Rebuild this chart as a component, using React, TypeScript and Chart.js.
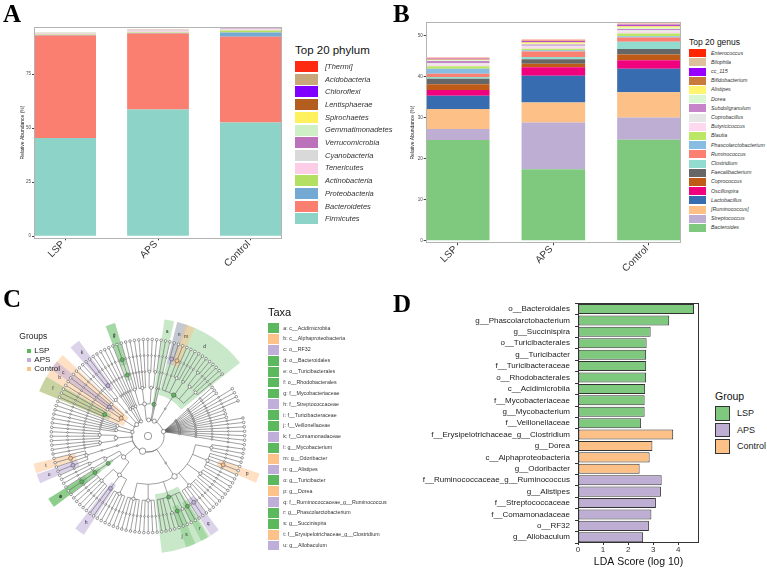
import React, { useEffect, useRef } from 'react';
import Chart from 'chart.js/auto';

const FONT = 'Liberation Sans, Arial, Helvetica, sans-serif';
const SERIF = 'Liberation Serif, Times New Roman, serif';

// ================= Panel A : phylum =================
const groupLabels = ['LSP', 'APS', 'Control'];
const phylumNames = ['Firmicutes', 'Bacteroidetes', 'Proteobacteria', 'Actinobacteria', 'Tenericutes', 'Cyanobacteria', 'Verrucomicrobia', 'Gemmatimonadetes', 'Spirochaetes', 'Lentisphaerae', 'Chloroflexi', 'Acidobacteria', '[Thermi]'];
const phylumColors = ['#8dd3c7', '#fb7f70', '#74a9d4', '#b3df62', '#fccde6', '#d9d9d9', '#bb72bb', '#cfefc6', '#fff15e', '#b35e1e', '#8000ff', '#c8a87a', '#ff2a12'];
const phylumLSP = [45.4, 47.5, 0.2, 0.3, 0.3, 0.3, 0.1, 0.05, 0.05, 0.03, 0.02, 0.02, 0.02];
const phylumAPS = [58.6, 35.2, 0.3, 0.2, 0.6, 0.3, 0.2, 0.05, 0.05, 0.03, 0.02, 0.02, 0.02];
const phylumControl = [52.6, 39.7, 2.0, 0.9, 0.5, 0.4, 0.2, 0.1, 0.1, 0.03, 0.02, 0.02, 0.02];
const ticksA = [0, 25, 50, 75];

// ================= Panel B : genus =================
const genusNames = ['Bacteroides', 'Streptococcus', '[Ruminococcus]', 'Lactobacillus', 'Oscillospira', 'Coprococcus', 'Faecalibacterium', 'Clostridium', 'Ruminococcus', 'Phascolarctobacterium', 'Blautia', 'Butyricicoccus', 'Coprobacillus', 'Subdoligranulum', 'Dorea', 'Alistipes', 'Bifidobacterium', 'cc_115', 'Bilophila', 'Enterococcus'];
const genusColors = ['#7fc97f', '#beaed4', '#fdc086', '#386cb0', '#f0027f', '#bf5b17', '#666666', '#92dccf', '#fb8072', '#88bce2', '#bce766', '#fdd9ef', '#e6e6e6', '#c585c8', '#d8f7d0', '#fff56f', '#c87b3a', '#9900ff', '#dcc19c', '#ff2600'];
const genusLSP = [24.55, 2.65, 4.9, 3.2, 1.4, 1.4, 1.4, 0.4, 0.8, 1.2, 0.6, 0.4, 0.4, 0.5, 0.2, 0.1, 0.15, 0.1, 0.1, 0.15];
const genusAPS = [17.4, 11.4, 4.9, 6.5, 2.1, 0.8, 1.1, 0.6, 1.3, 0.3, 0.4, 0.4, 0.3, 0.3, 0.2, 0.3, 0.2, 0.2, 0.1, 0.2];
const genusControl = [24.6, 5.4, 6.2, 5.7, 2.1, 1.4, 1.3, 1.8, 1.0, 0.3, 0.7, 0.4, 0.4, 0.3, 0.3, 0.3, 0.2, 0.2, 0.2, 0.1];
const ticksB = [0, 10, 20, 30, 40, 50];

// ================= Panel C : cladogram =================
const groupNames = ['LSP', 'APS', 'Control'];
const cladeColors: Record<string, string> = { LSP: '#5cb85c', APS: '#bfaed8', Control: '#fdc28a' };
const cladeShade: Record<string, string> = { LSP: 'rgba(92,184,92,0.33)', APS: 'rgba(191,174,216,0.55)', Control: 'rgba(253,194,138,0.5)' };
const taxaKeys = ['a', 'b', 'c', 'd', 'e', 'f', 'g', 'h', 'i', 'j', 'k', 'l', 'm', 'n', 'o', 'p', 'q', 'r', 's', 't', 'u'];
const taxaNames = ['c__Acidimicrobiia', 'c__Alphaproteobacteria', 'o__RF32', 'o__Bacteroidales', 'o__Turicibacterales', 'o__Rhodobacterales', 'f__Mycobacteriaceae', 'f__Streptococcaceae', 'f__Turicibacteraceae', 'f__Veillonellaceae', 'f__Comamonadaceae', 'g__Mycobacterium', 'g__Odoribacter', 'g__Alistipes', 'g__Turicibacter', 'g__Dorea', 'f__Ruminococcaceae_g__Ruminococcus', 'g__Phascolarctobacterium', 'g__Succinispira', 'f__Erysipelotrichaceae_g__Clostridium', 'g__Allobaculum'];
const taxaGroups = ['LSP', 'Control', 'APS', 'LSP', 'LSP', 'LSP', 'LSP', 'APS', 'LSP', 'LSP', 'APS', 'LSP', 'Control', 'APS', 'LSP', 'Control', 'APS', 'LSP', 'LSP', 'Control', 'APS'];

interface TNode { m: string; c: TNode[]; s: boolean; depth: number; ang: number; a0: number; a1: number; n: number; x: number; y: number; }
function nd(m: string, ...c: TNode[]): TNode { return { m, c, s: false, depth: 0, ang: 0, a0: 0, a1: 0, n: 0, x: 0, y: 0 }; }
function lf(m = ''): TNode { return nd(m); }
function chain(d: number): TNode { return d <= 1 ? lf() : nd('', chain(d - 1)); }
function fan(k: number, d: number): TNode[] { const out: TNode[] = []; for (let i = 0; i < k; i++) out.push(chain(d)); return out; }
function straight(t: TNode): TNode { t.s = true; return t; }

// tree topology (clockwise from the top)
const cladeActinobacteria = nd('',
  nd('', nd('', nd('g', nd('l', lf())), ...fan(2, 3)), nd('', ...fan(4, 3)), nd('', nd('', ...fan(2, 2)), nd('', ...fan(2, 2)))),
  nd('a', ...fan(1, 4)));
const cladeBacteroidetes = nd('',
  nd('', ...fan(1, 4)),
  nd('', nd('d',
    nd('', nd('n', ...fan(2, 1))),
    nd('', nd('m', lf())),
    nd('', ...fan(3, 2)),
    nd('', ...fan(2, 2)),
    nd('', nd('', ...fan(2, 1)), nd('', lf())),
    nd('', ...fan(3, 2)))));
const cladeFan = straight(nd('', ...fan(3, 4), ...fan(4, 5), ...fan(3, 4), ...fan(4, 5), ...fan(3, 5)));
const cladeFirmicutes = nd('',
  nd('', nd('',
    nd('', ...fan(3, 2)),
    nd('', ...fan(2, 2), nd('p', lf()), ...fan(3, 2)),
    nd('', ...fan(4, 2)),
    nd('', ...fan(5, 2), nd('q', lf()), ...fan(1, 2)),
    nd('j', nd('r', lf()), nd('', ...fan(2, 1)), nd('s', lf()), nd('', ...fan(2, 1)), ...fan(3, 2)),
    nd('', ...fan(5, 2)),
    nd('', ...fan(5, 2)))),
  nd('',
    nd('', nd('', ...fan(5, 2)), nd('h', ...fan(2, 2)), nd('', ...fan(6, 2))),
    nd('e', nd('i', nd('o', lf()))),
    nd('', nd('', ...fan(2, 2)), nd('', ...fan(2, 2)))),
  nd('', nd('', nd('', nd('u', lf()), nd('', lf()), nd('t', lf()), nd('', lf())))));
const cladeTenericutes = nd('', nd('', nd('', ...fan(3, 3)), nd('', ...fan(4, 3))));
const cladeCyanobacteria = nd('', nd('', ...fan(3, 4)), nd('', ...fan(3, 4)));
const cladeProteobacteria = nd('',
  nd('b', nd('f', ...fan(3, 3)), nd('', ...fan(2, 3)), nd('c', ...fan(1, 3)), nd('', ...fan(2, 3))),
  nd('', nd('', ...fan(2, 3), nd('k', ...fan(2, 2)))),
  nd('', ...fan(2, 4)));
const cladeVerrucomicrobia = nd('', nd('', ...fan(2, 4)), nd('', ...fan(2, 4)));
const treeRoot = nd('', cladeActinobacteria, cladeBacteroidetes, cladeFan, cladeFirmicutes, cladeTenericutes, cladeCyanobacteria, cladeProteobacteria, cladeVerrucomicrobia);
const treeStartAngle = -20;

// ================= Panel D : LDA =================
const ldaTaxa = ['o__Bacteroidales', 'g__Phascolarctobacterium', 'g__Succinispira', 'o__Turicibacterales', 'g__Turicibacter', 'f__Turicibacteraceae', 'o__Rhodobacterales', 'c__Acidimicrobiia', 'f__Mycobacteriaceae', 'g__Mycobacterium', 'f__Veillonellaceae', 'f__Erysipelotrichaceae_g__Clostridium', 'g__Dorea', 'c__Alphaproteobacteria', 'g__Odoribacter', 'f__Ruminococcaceae_g__Ruminococcus', 'g__Alistipes', 'f__Streptococcaceae', 'f__Comamonadaceae', 'o__RF32', 'g__Allobaculum'];
const ldaScores = [4.63, 3.64, 2.90, 2.74, 2.72, 2.72, 2.72, 2.68, 2.66, 2.66, 2.52, 3.80, 2.97, 2.86, 2.46, 3.34, 3.31, 3.11, 2.93, 2.83, 2.60];
const ldaGroups = ['LSP', 'LSP', 'LSP', 'LSP', 'LSP', 'LSP', 'LSP', 'LSP', 'LSP', 'LSP', 'LSP', 'Control', 'Control', 'Control', 'Control', 'APS', 'APS', 'APS', 'APS', 'APS', 'APS'];
const ldaColors: Record<string, string> = { LSP: '#7fc97f', APS: '#beaed4', Control: '#fdc086' };
const ldaTicks = [0, 1, 2, 3, 4];

// ---------- tree layout ----------
const LEVEL = 16.7;
const rad = (d: number) => d * LEVEL;
const polar = (r: number, deg: number) => ({ x: r * Math.sin((deg * Math.PI) / 180), y: r * Math.cos((deg * Math.PI) / 180) });
function layoutTree(root: TNode, start: number) {
  const count = (t: TNode): number => (t.c.length ? t.c.reduce((s, c) => s + count(c), 0) : 1);
  const total = count(root);
  const step = 360 / total;
  let k = 0;
  const all: TNode[] = [];
  const walk = (t: TNode, depth: number) => {
    t.depth = depth; all.push(t);
    if (!t.c.length) { t.ang = start + (k + 0.5) * step; t.a0 = t.a1 = t.ang; t.n = 1; k++; return; }
    t.c.forEach((c) => walk(c, depth + 1));
    const f = t.c[0], l = t.c[t.c.length - 1];
    t.ang = (f.ang + l.ang) / 2; t.a0 = f.a0; t.a1 = l.a1; t.n = t.c.reduce((s, c) => s + c.n, 0);
  };
  walk(root, 0);
  const place = (t: TNode, anchor: TNode | null) => {
    if (anchor) {
      let leaf = t; while (leaf.c.length) leaf = leaf.c[0];
      const L = polar(rad(leaf.depth), leaf.ang);
      const f = (t.depth - anchor.depth) / (leaf.depth - anchor.depth);
      t.x = anchor.x + (L.x - anchor.x) * f; t.y = anchor.y + (L.y - anchor.y) * f;
    } else {
      const p = polar(rad(t.depth), t.ang); t.x = p.x; t.y = p.y;
    }
    const a = anchor || (t.s ? t : null);
    t.c.forEach((c) => place(c, a));
  };
  place(root, null);
  return { all, step };
}
const { all: treeNodes, step: leafStep } = layoutTree(treeRoot, treeStartAngle);
const groupOf = (m: string) => taxaGroups[taxaKeys.indexOf(m)];

const framePlugin = (color: string) => ({
  id: 'frame',
  afterDatasetsDraw(chart: any) {
    const { ctx, chartArea: a } = chart;
    ctx.save(); ctx.strokeStyle = color; ctx.lineWidth = 1;
    ctx.strokeRect(Math.round(a.left) + 0.5, Math.round(a.top) + 0.5, Math.round(a.width) - 1, Math.round(a.height) - 1);
    ctx.restore();
  },
});

function makeStacked(canvas: HTMLCanvasElement, names: string[], colors: string[], series: number[][], o: any) {
  return new Chart(canvas, {
    type: 'bar',
    data: {
      datasets: names.map((name, i) => ({
        label: name,
        data: series.map((s, j) => ({ x: j + 1, y: s[i] })),
        backgroundColor: colors[i],
        borderWidth: 0,
        barPercentage: 0.665,
        categoryPercentage: 1,
      })),
    },
    options: {
      animation: false, responsive: true, maintainAspectRatio: false, events: [],
      layout: { padding: o.padding },
      plugins: { legend: { display: false }, tooltip: { enabled: false } },
      scales: {
        x: {
          type: 'linear', stacked: true, min: 0.665, max: 3.335, offset: false,
          afterBuildTicks: (s: any) => { s.ticks = groupLabels.map((_, i) => ({ value: i + 1 })); },
          afterFit: (s: any) => { s.height = o.xHeight; },
          ticks: { autoSkip: false, callback: (v: any) => groupLabels[Number(v) - 1] ?? '', minRotation: 45, maxRotation: 45, padding: -2, labelOffset: -2, color: '#333', font: { family: FONT, size: 10 } },
          grid: { offset: false, drawOnChartArea: false, tickLength: 2, tickColor: '#444' },
          border: { display: false },
        },
        y: {
          type: 'linear', stacked: true, min: o.yMin, max: o.yMax,
          afterBuildTicks: (s: any) => { s.ticks = o.yTicks.map((v: number) => ({ value: v })); },
          afterFit: (s: any) => { s.width = o.yWidth; },
          ticks: { padding: 1, color: '#4d4d4d', font: { family: FONT, size: 4.5 } },
          grid: { drawOnChartArea: false, tickLength: 2, tickColor: '#444' },
          border: { display: false },
          title: { display: true, text: 'Relative Abundance (%)', padding: 0, color: '#222', font: { family: FONT, size: 5 } },
        },
      },
    } as any,
    plugins: [framePlugin('#b3b3b3')],
  });
}

function makeA(c: HTMLCanvasElement) {
  return makeStacked(c, phylumNames, phylumColors, [phylumLSP, phylumAPS, phylumControl], {
    padding: { left: 20, right: 8, top: 26.7, bottom: 0 }, xHeight: 46.7, yWidth: 14, yMin: -1, yMax: 97, yTicks: ticksA,
  });
}
function makeB(c: HTMLCanvasElement) {
  return makeStacked(c, genusNames, genusColors, [genusLSP, genusAPS, genusControl], {
    padding: { left: 30, right: 4, top: 22, bottom: 0 }, xHeight: 41.7, yWidth: 15.7, yMin: -0.63, yMax: 53.3, yTicks: ticksB,
  });
}

const cladePlugin = {
  id: 'clade',
  beforeDatasetsDraw(chart: any) {
    const { ctx } = chart;
    const xs = chart.scales.x, ys = chart.scales.y;
    const cx = xs.getPixelForValue(0), cy = ys.getPixelForValue(0);
    const k = xs.getPixelForValue(1) - cx;
    const ca = (deg: number) => ((deg - 90) * Math.PI) / 180;
    const P = (t: TNode) => [xs.getPixelForValue(t.x), ys.getPixelForValue(t.y)];
    ctx.save();
    treeNodes.filter((t) => t.m).sort((a, b) => a.depth - b.depth).forEach((t) => {
      let a0 = t.a0 - leafStep / 2, a1 = t.a1 + leafStep / 2;
      if (a1 - a0 < 4.8) { const mid = (a0 + a1) / 2; a0 = mid - 2.4; a1 = mid + 2.4; }
      const rin = Math.max(rad(t.depth) - 6, 4), rout = 122;
      ctx.beginPath();
      ctx.arc(cx, cy, rout * k, ca(a0), ca(a1));
      ctx.arc(cx, cy, rin * k, ca(a1), ca(a0), true);
      ctx.closePath();
      ctx.fillStyle = cladeShade[groupOf(t.m)];
      ctx.fill();
    });
    ctx.strokeStyle = '#606060'; ctx.lineWidth = 0.6;
    const drawNode = (t: TNode) => {
      if (!t.c.length) return;
      if (t.s) {
        const [ax, ay] = P(t);
        const leaves: TNode[] = [];
        const collect = (u: TNode) => { if (!u.c.length) leaves.push(u); else u.c.forEach(collect); };
        collect(t);
        leaves.forEach((l) => { const [lx, ly] = P(l); ctx.beginPath(); ctx.moveTo(ax, ay); ctx.lineTo(lx, ly); ctx.stroke(); });
        return;
      }
      const rp = t.depth === 0 ? rad(1) : rad(t.depth);
      const f = t.c[0], l = t.c[t.c.length - 1];
      if (t.c.length > 1) { ctx.beginPath(); ctx.arc(cx, cy, rp * k, ca(f.ang), ca(l.ang)); ctx.stroke(); }
      t.c.forEach((ch) => {
        const r2 = rad(ch.depth);
        if (r2 > rp) {
          const a = (ch.ang * Math.PI) / 180;
          ctx.beginPath();
          ctx.moveTo(cx + rp * k * Math.sin(a), cy - rp * k * Math.cos(a));
          ctx.lineTo(cx + r2 * k * Math.sin(a), cy - r2 * k * Math.cos(a));
          ctx.stroke();
        }
        drawNode(ch);
      });
    };
    drawNode(treeRoot);
    ctx.restore();
  },
  afterDatasetsDraw(chart: any) {
    const { ctx } = chart;
    const xs = chart.scales.x, ys = chart.scales.y;
    ctx.save();
    ctx.font = `5px ${FONT}`; ctx.fillStyle = '#333'; ctx.textAlign = 'center'; ctx.textBaseline = 'middle';
    treeNodes.filter((t) => t.m).forEach((t) => {
      const p = polar(110, t.ang);
      ctx.fillText(t.m, xs.getPixelForValue(p.x), ys.getPixelForValue(p.y));
    });
    ctx.restore();
  },
};

function makeC(c: HTMLCanvasElement) {
  const pts = treeNodes.map((t) => ({ x: t.x, y: t.y }));
  const radii = treeNodes.map((t) => {
    if (t.depth === 0) return 3.7;
    if (t.m) return Math.max(2, 1.1 + 0.3 * Math.sqrt(t.n));
    if (!t.c.length) return 1.3;
    if (t.c.length === 1) return 0.85;
    return 1 + 0.28 * Math.sqrt(t.n);
  });
  const fills = treeNodes.map((t) => (t.m ? cladeColors[groupOf(t.m)] : '#ffffff'));
  return new Chart(c, {
    type: 'scatter',
    data: { datasets: [{ data: pts, pointRadius: radii, pointBackgroundColor: fills, pointBorderColor: '#555', pointBorderWidth: 0.6 }] },
    options: {
      animation: false, responsive: true, maintainAspectRatio: false, events: [],
      layout: { padding: 0 },
      plugins: { legend: { display: false }, tooltip: { enabled: false } },
      scales: {
        x: { type: 'linear', min: -130, max: 130, display: false },
        y: { type: 'linear', min: -130, max: 130, display: false },
      },
    } as any,
    plugins: [cladePlugin],
  });
}

function makeD(c: HTMLCanvasElement) {
  return new Chart(c, {
    type: 'bar',
    data: {
      labels: ldaTaxa,
      datasets: [{
        data: ldaScores,
        backgroundColor: ldaGroups.map((g) => ldaColors[g]),
        borderColor: '#333', borderWidth: 1, borderSkipped: false,
        barPercentage: 0.88, categoryPercentage: 1,
      }],
    },
    options: {
      indexAxis: 'y',
      animation: false, responsive: true, maintainAspectRatio: false, events: [],
      layout: { padding: { left: 0, right: 4, top: 18.3, bottom: 0 } },
      plugins: { legend: { display: false }, tooltip: { enabled: false } },
      scales: {
        x: {
          type: 'linear', min: 0, max: 4.83,
          afterBuildTicks: (s: any) => { s.ticks = ldaTicks.map((v) => ({ value: v })); },
          afterFit: (s: any) => { s.height = 26; },
          ticks: { padding: 0, color: '#333', font: { family: FONT, size: 8 } },
          grid: { drawOnChartArea: false, tickLength: 2, tickColor: '#333' },
          border: { display: false },
          title: { display: true, text: 'LDA Score (log 10)', color: '#111', padding: { top: 0, bottom: 1 }, font: { family: FONT, size: 10.5 } },
        },
        y: {
          afterFit: (s: any) => { s.width = 193; },
          ticks: { autoSkip: false, padding: 5, color: '#222', font: { family: FONT, size: 8 } },
          grid: { drawOnChartArea: false, tickLength: 3, tickColor: '#333' },
          border: { display: false },
        },
      },
    } as any,
    plugins: [framePlugin('#333')],
  });
}

function ChartBox({ left, top, width, height, make }: { left: number; top: number; width: number; height: number; make: (c: HTMLCanvasElement) => Chart }) {
  const ref = useRef<HTMLCanvasElement>(null);
  useEffect(() => {
    const ch = make(ref.current as HTMLCanvasElement);
    return () => ch.destroy();
  }, []);
  return (
    <div style={{ position: 'absolute', left, top, width, height }}>
      <canvas ref={ref} />
    </div>
  );
}

function Txt({ x, base, size, text, italic, color = '#000', family = FONT, weight = 'normal' }: any) {
  const asc = family === SERIF ? 0.8375 : 0.8465;
  return (
    <div style={{ position: 'absolute', left: x, top: base - asc * size, fontSize: size, lineHeight: `${size}px`, fontFamily: family, fontStyle: italic ? 'italic' : 'normal', fontWeight: weight, color, whiteSpace: 'nowrap' }}>
      {text}
    </div>
  );
}

function Box({ x, y, w, h, color, border }: any) {
  return <div style={{ position: 'absolute', left: x, top: y, width: w, height: h, background: color, boxSizing: 'border-box', border: border ? `1px solid ${border}` : 'none' }} />;
}

function Letter({ x, capTop, text }: any) {
  return <Txt x={x} base={capTop + 0.662 * 25} size={25} text={text} family={SERIF} weight="bold" />;
}

export default function App() {
  const phylumLegend = phylumNames.map((n, i) => ({ n, c: phylumColors[i] })).reverse();
  const genusLegend = genusNames.map((n, i) => ({ n, c: genusColors[i] })).reverse();
  return (
    <div style={{ position: 'absolute', left: 0, top: 0, width: 767, height: 569, overflow: 'hidden', background: '#fff', fontFamily: FONT }}>
      <ChartBox left={0} top={0} width={290} height={285} make={makeA} />
      <ChartBox left={380} top={0} width={305} height={285} make={makeB} />
      <ChartBox left={18} top={306} width={260} height={260} make={makeC} />
      <ChartBox left={385} top={285} width={318} height={284} make={makeD} />

      <Letter x={3} capTop={5} text="A" />
      <Letter x={393} capTop={5} text="B" />
      <Letter x={3} capTop={290} text="C" />
      <Letter x={393} capTop={295} text="D" />

      {/* Legend A */}
      <Txt x={295} base={54.9} size={11.5} text="Top 20 phylum" color="#111" />
      {phylumLegend.map((it, i) => (
        <React.Fragment key={'pa' + i}>
          <Box x={295} y={61 + 12.7 * i} w={23} h={11} color={it.c} />
          <Txt x={325} base={66.5 + 12.7 * i + 2.7} size={7.5} italic text={it.n} color="#333" />
        </React.Fragment>
      ))}

      {/* Legend B */}
      <Txt x={689} base={45.4} size={8.5} text="Top 20 genus" color="#111" />
      {genusLegend.map((it, i) => (
        <React.Fragment key={'gb' + i}>
          <Box x={689} y={49.3 + 9.19 * i} w={17.3} h={8} color={it.c} />
          <Txt x={711} base={53.3 + 9.19 * i + 1.9} size={5.3} italic text={it.n} color="#333" />
        </React.Fragment>
      ))}

      {/* Legend C groups */}
      <Txt x={19.3} base={339.4} size={8.5} text="Groups" color="#222" />
      {groupNames.map((g, i) => (
        <React.Fragment key={'gc' + i}>
          <Box x={27} y={349 + 8.8 * i} w={4} h={4} color={cladeColors[g]} />
          <Txt x={34.3} base={351 + 8.8 * i + 2.9} size={8} text={g} color="#222" />
        </React.Fragment>
      ))}

      {/* Legend C taxa */}
      <Txt x={268} base={316.2} size={11} text="Taxa" color="#111" />
      {taxaKeys.map((key, i) => (
        <React.Fragment key={'tx' + i}>
          <Box x={268} y={323.3 + 10.87 * i} w={11} h={9.8} color={cladeColors[taxaGroups[i]]} />
          <Txt x={283.3} base={328.2 + 10.87 * i + 1.9} size={5.3} text={`${key}: ${taxaNames[i]}`} color="#333" />
        </React.Fragment>
      ))}

      {/* Legend D */}
      <Txt x={715} base={399.8} size={10.5} text="Group" color="#111" />
      {groupNames.map((g, i) => (
        <React.Fragment key={'gd' + i}>
          <Box x={715} y={406 + 16.7 * i} w={15} h={14.7} color={ldaColors[g]} border="#333" />
          <Txt x={737} base={413.3 + 16.7 * i + 3.2} size={9} text={g} color="#222" />
        </React.Fragment>
      ))}
    </div>
  );
}
